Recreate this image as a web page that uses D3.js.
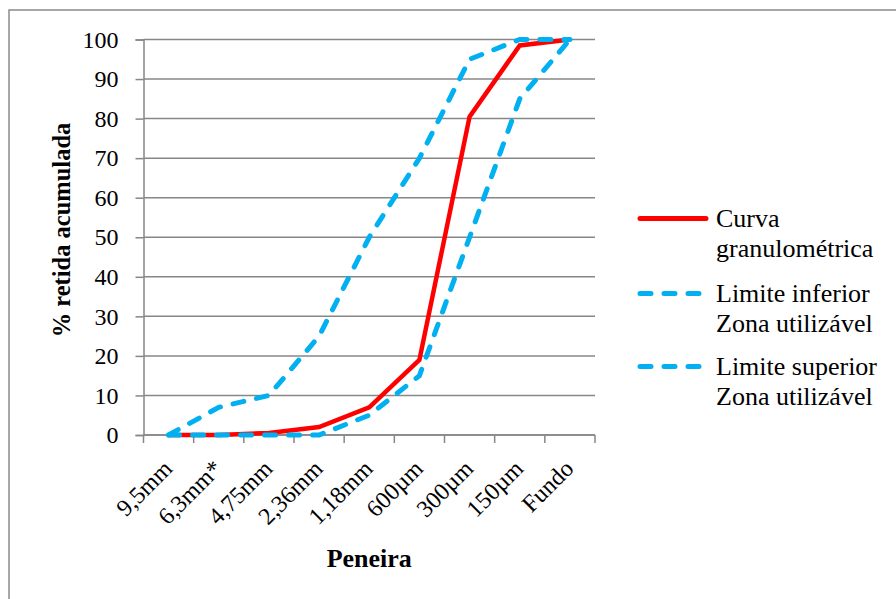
<!DOCTYPE html>
<html>
<head>
<meta charset="utf-8">
<script src="https://cdn.jsdelivr.net/npm/d3@7"></script>
<style>
  html, body { margin: 0; padding: 0; background: #fff; }
  svg { display: block; }
</style>
</head>
<body>
<svg id="chart" width="896" height="599"></svg>
<script>
// Sieve openings (x categories)
const sieves = ["9,5mm", "6,3mm*", "4,75mm", "2,36mm", "1,18mm", "600µm", "300µm", "150µm", "Fundo"];
// Cumulative retained percentage of the sample
const curva = [0, 0, 0.5, 2, 7, 19, 80.5, 98.5, 100];
// Limits of the usable zone
const limiteInferior = [0, 0, 0, 0, 5, 15, 50, 85, 100];
const limiteSuperior = [0, 7, 10, 25, 50, 70, 95, 100, 100];
const yTicks = [0, 10, 20, 30, 40, 50, 60, 70, 80, 90, 100];

const seriesNames = [
  ["Curva", "granulométrica"],
  ["Limite inferior", "Zona utilizável"],
  ["Limite superior", "Zona utilizável"]
];

const RED = "#ff0000", BLUE = "#00b0f0", GRID = "#878787";
const SERIF = "Liberation Serif";

const svg = d3.select("#chart");

// set the font on a text selection
const serif = (sel, size, weight) => sel
  .style("font-family", SERIF)
  .style("font-size", size + "px")
  .style("font-weight", weight || "normal")
  .style("fill", "#000");

// outer chart frame
svg.append("rect")
  .attr("x", 9).attr("y", 10).attr("width", 900).attr("height", 600)
  .attr("fill", "none").attr("stroke", "#8a8a8a").attr("stroke-width", 1.5);

const plot = { left: 143.5, right: 595, top: 39.5, bottom: 435 };

const x = d3.scaleBand().domain(sieves).range([plot.left, plot.right]);
const y = d3.scaleLinear().domain([0, 100]).range([plot.bottom, plot.top]);

// horizontal gridlines
svg.append("g").selectAll("line").data(yTicks).join("line")
  .attr("x1", plot.left).attr("x2", plot.right)
  .attr("y1", d => y(d)).attr("y2", d => y(d))
  .attr("stroke", GRID).attr("stroke-width", 1.5);

// y axis
const yAxis = svg.append("g")
  .attr("transform", `translate(${plot.left},0)`)
  .call(d3.axisLeft(y).tickValues(yTicks).tickSize(8).tickPadding(17));
yAxis.select(".domain").attr("stroke", GRID).attr("stroke-width", 1.5);
yAxis.selectAll(".tick line").attr("stroke", GRID).attr("stroke-width", 1.5);
yAxis.selectAll(".tick text").call(serif, 24);

// x axis: ticks at category boundaries
const xAxisG = svg.append("g").attr("transform", `translate(0,${plot.bottom})`);
xAxisG.append("line")
  .attr("x1", plot.left).attr("x2", plot.right)
  .attr("stroke", GRID).attr("stroke-width", 1.5);
const bounds = sieves.map(s => x(s)).concat([x(sieves[sieves.length - 1]) + x.bandwidth()]);
xAxisG.selectAll("line.tk").data(bounds).join("line").attr("class", "tk")
  .attr("x1", d => d).attr("x2", d => d).attr("y1", 0).attr("y2", 8)
  .attr("stroke", GRID).attr("stroke-width", 1.5);
xAxisG.selectAll("text").data(sieves).join("text")
  .attr("transform", d => `translate(${x(d) + x.bandwidth() / 2 + 5},${35}) rotate(-45)`)
  .attr("text-anchor", "end")
  .call(serif, 24)
  .text(d => d);

// axis titles
svg.append("text")
  .attr("transform", "translate(70,230) rotate(-90)")
  .attr("text-anchor", "middle")
  .call(serif, 24.5, "bold")
  .text("% retida acumulada");
svg.append("text")
  .attr("x", (plot.left + plot.right) / 2).attr("y", 567)
  .attr("text-anchor", "middle")
  .call(serif, 26, "bold")
  .text("Peneira");

const line = d3.line()
  .x((d, i) => x(sieves[i]) + x.bandwidth() / 2)
  .y(d => y(d));

const dash = "11,13";
svg.append("path").datum(curva)
  .attr("d", line).attr("fill", "none")
  .attr("stroke", RED).attr("stroke-width", 4.5).attr("stroke-linejoin", "miter");
svg.append("path").datum(limiteInferior)
  .attr("d", line).attr("fill", "none")
  .attr("stroke", BLUE).attr("stroke-width", 5)
  .attr("stroke-dasharray", dash).attr("stroke-linecap", "round");
svg.append("path").datum(limiteSuperior)
  .attr("d", line).attr("fill", "none")
  .attr("stroke", BLUE).attr("stroke-width", 5)
  .attr("stroke-dasharray", dash).attr("stroke-linecap", "round");

// legend
const legend = svg.append("g");
const legendTop = [227, 302, 375];
seriesNames.forEach((lines, i) => {
  const g = legend.append("g").attr("transform", `translate(0,${legendTop[i]})`);
  g.append("line")
    .attr("x1", 640).attr("x2", 706).attr("y1", -8.5).attr("y2", -8.5)
    .attr("stroke", i === 0 ? RED : BLUE).attr("stroke-width", 5)
    .attr("stroke-linecap", "round")
    .attr("stroke-dasharray", i === 0 ? null : "11,13");
  g.selectAll("text").data(lines).join("text")
    .attr("x", 716).attr("y", (d, j) => j * 30)
    .call(serif, 26)
    .text(d => d);
});
</script>
</body>
</html>
